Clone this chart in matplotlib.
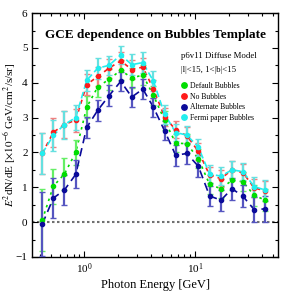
import matplotlib
matplotlib.use("Agg")
import matplotlib.pyplot as plt
from matplotlib.ticker import MultipleLocator, LogLocator, NullFormatter

plt.rcParams['font.family'] = ['Liberation Serif', 'DejaVu Serif']
plt.rcParams['mathtext.fontset'] = 'stix'

energy = [0.417, 0.525, 0.660, 0.836, 1.051, 1.321, 1.671, 2.13, 2.68, 3.37, 4.20,
          5.30, 6.67, 8.41, 10.7, 13.5, 17.1, 21.5, 27.0, 34.1, 42.9]

default_vals = [0.06, 1.03, 1.38, 2.0, 3.3, 3.88, 4.1, 4.36, 4.14, 4.22, 3.64,
                2.92, 2.27, 2.25, 1.82, 1.08, 0.96, 1.2, 1.16, 0.77, 0.63]
default_err = [0.9, 0.5, 0.45, 0.35, 0.32, 0.3, 0.3, 0.28, 0.28, 0.28, 0.27,
               0.27, 0.27, 0.27, 0.27, 0.27, 0.27, 0.28, 0.28, 0.3, 0.32]

nobub_vals = [1.97, 2.58, 2.8, 2.93, 3.95, 4.18, 4.42, 4.63, 4.38, 4.45, 3.82,
              3.02, 2.65, 2.48, 2.03, 1.35, 1.25, 1.5, 1.42, 0.98, 0.9]
nobub_err = [0.6, 0.42, 0.38, 0.33, 0.3, 0.28, 0.27, 0.25, 0.27, 0.27, 0.26,
             0.25, 0.24, 0.24, 0.24, 0.24, 0.24, 0.25, 0.25, 0.27, 0.28]

alt_vals = [-0.06, 0.69, 0.92, 1.37, 2.72, 3.21, 3.63, 4.04, 3.59, 3.82, 3.3,
            2.62, 1.92, 1.97, 1.6, 0.75, 0.63, 0.96, 0.74, 0.36, 0.38]
alt_err = [0.92, 0.57, 0.43, 0.4, 0.3, 0.3, 0.3, 0.28, 0.28, 0.28, 0.27,
           0.27, 0.3, 0.3, 0.3, 0.3, 0.3, 0.32, 0.32, 0.35, 0.37]

fermi_vals = [1.97, 2.49, 2.8, 3.0, 4.07, 4.42, 4.5, 4.8, 4.52, 4.58, 4.05,
              3.1, 2.57, 2.5, 2.15, 1.38, 1.32, 1.5, 1.45, 1.02, 0.92]
fermi_err = [0.6, 0.45, 0.4, 0.35, 0.3, 0.3, 0.27, 0.25, 0.3, 0.3, 0.28,
             0.27, 0.25, 0.25, 0.25, 0.25, 0.25, 0.25, 0.25, 0.27, 0.3]

series = [
    ("Default Bubbles", default_vals, default_err, "#00dd00", "#66ee66", (0, (1.5, 2.5))),
    ("No Bubbles", nobub_vals, nobub_err, "#ff1a1a", "#f08080", (0, (2.5, 2.5))),
    ("Alternate Bubbles", alt_vals, alt_err, "#0a0a9a", "#5555c0", (0, (5, 3))),
    ("Fermi paper Bubbles", fermi_vals, fermi_err, "#22eeee", "#66e0e0", (0, (4, 2))),
]

fig = plt.figure(figsize=(2.82, 2.91), dpi=100)
ax = fig.add_axes([0.115, 0.117, 0.871, 0.838])

ax.axhline(0, color="#707070", ls=(0, (1.2, 1.2)), lw=1.5, zorder=1)

handles = []
for i, (lab, vals, err, col, ecol, ls) in enumerate(series):
    ax.plot(energy, vals, ls=ls, color=col, lw=1.2, zorder=2 + i)
    ax.errorbar(energy, vals, yerr=err, fmt="none", ecolor=ecol, elinewidth=1.6,
                capsize=2, capthick=1.0, zorder=2 + i)
    h, = ax.plot(energy, vals, "o", color=col, ms=3.0, zorder=6 + i, label=lab)
    handles.append(h)

ax.set_xscale("log")
ax.set_xlim(0.34, 56)
ax.set_ylim(-1, 6)
ax.yaxis.set_major_locator(MultipleLocator(1))
ax.yaxis.set_minor_locator(MultipleLocator(0.5))
ax.xaxis.set_major_locator(LogLocator(base=10, numticks=10))
ax.xaxis.set_minor_locator(LogLocator(base=10, subs=range(2, 10), numticks=10))
ax.xaxis.set_minor_formatter(NullFormatter())
ax.tick_params(which="both", direction="in", top=True, right=True, labelsize=8, width=0.8)
ax.tick_params(which="major", length=4.5)
ax.tick_params(which="minor", length=2.5)
for s in ax.spines.values():
    s.set_linewidth(1.0)

ax.set_xlabel("Photon Energy [GeV]", fontsize=9, labelpad=2)
ax.set_ylabel(r"$E^2$dN/dE [$\times 10^{-6}$ GeV/cm$^2$/s/sr]", fontsize=8)
ax.yaxis.set_label_coords(-0.058, 0.5)

ax.text(0.5, 0.91, "GCE dependence on Bubbles Template", transform=ax.transAxes,
        ha="center", va="center", fontsize=9.5, fontweight="bold")
ax.text(0.605, 0.826, "p6v11 Diffuse Model", transform=ax.transAxes,
        ha="left", va="center", fontsize=6.3)
ax.text(0.605, 0.765, "|l|<15, 1<|b|<15", transform=ax.transAxes,
        ha="left", va="center", fontsize=6.3)

leg = ax.legend(handles=handles, loc="upper left", bbox_to_anchor=(0.585, 0.74),
                frameon=False, fontsize=5.5, handlelength=0.6, handletextpad=0.5,
                labelspacing=0.35, borderpad=0.2, markerscale=1.3)

fig.savefig("out.png", dpi=100)
